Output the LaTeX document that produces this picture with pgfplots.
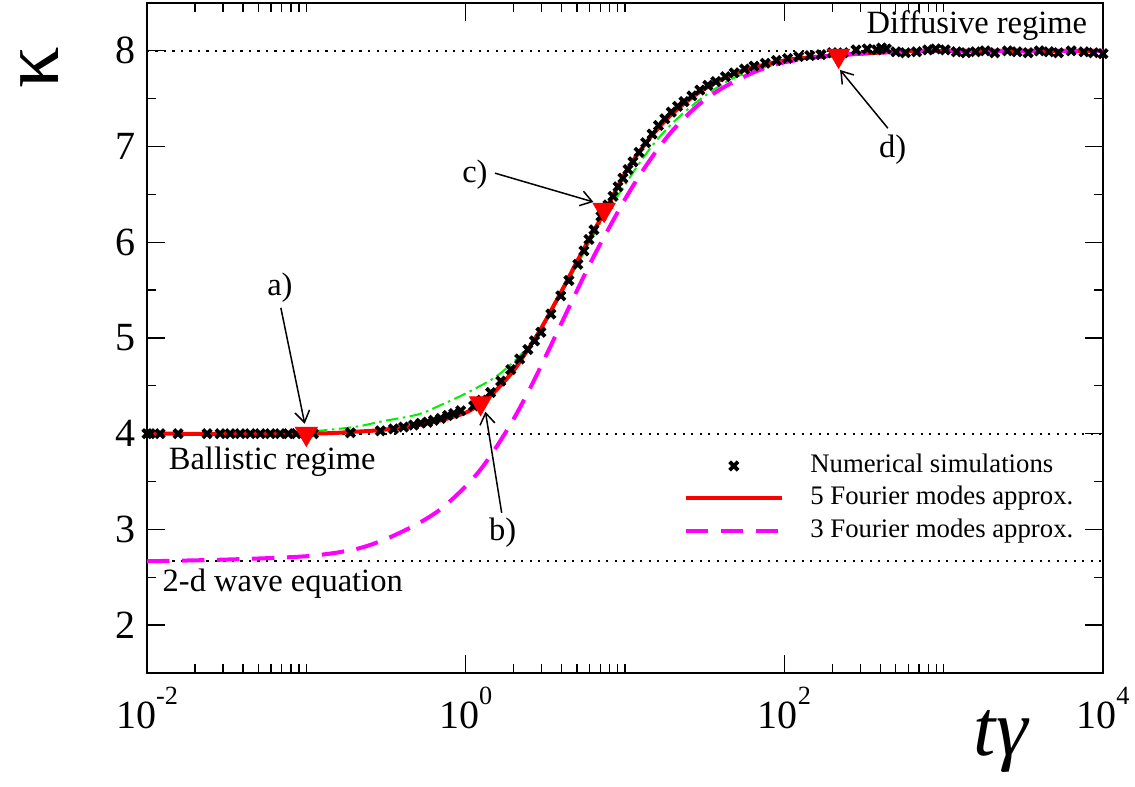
\documentclass[border=0pt]{standalone}
\usepackage{fontspec}
\setmainfont{Liberation Serif}
\usepackage{pgfplots}
\pgfplotsset{compat=1.18}
\usetikzlibrary{arrows.meta}

\definecolor{grmag}{RGB}{255,0,255}
\definecolor{grgreen}{RGB}{0,240,0}
\newcommand{\ex}[1]{\raisebox{0.6em}{\fontsize{10.5}{10.5}\selectfont #1}}

\pgfplotsset{
  longline legend/.style={legend image code/.code={\draw[##1] (0cm,0cm) -- (1.35cm,0cm);}},
  midmark legend/.style={legend image code/.code={\draw[mark repeat=1,##1] plot coordinates {(0.675cm,0cm)};}},
}

\begin{document}
\begin{tikzpicture}
\begin{axis}[
    name=ax,
    scale only axis,
    width=382.4pt, height=268pt,
    xmode=log,
    xmin=0.01, xmax=10000,
    ymin=1.5, ymax=8.5,
    xtick={0.01,1,100,10000},
    xticklabels={10\ex{-2},10\ex{0},10\ex{2},10\ex{4}},
    minor xtick={0.02,0.03,0.04,0.05,0.06,0.07,0.08,0.09,0.1,2,3,4,5,6,7,8,9,10,200,300,400,500,600,700,800,900,1000},
    ytick={2,3,4,5,6,7,8},
    yticklabels={2,3,4,5,6,7,8},
    minor ytick={2.5,3.5,4.5,5.5,6.5,7.5},
    tick align=inside,
    major tick length=7.2pt,
    minor tick length=3.6pt,
    every tick/.style={black, line width=0.5pt},
    axis line style={line width=0.8pt},
    ticklabel style={font=\fontsize{16}{16}\selectfont},
    xticklabel style={anchor=north, yshift=-2pt},
    yticklabel style={anchor=east, xshift=-1pt},
    ylabel={κ},
    ylabel style={at={(rel axis cs:-0.112,0.903)}, anchor=center, inner sep=0pt, font=\fontsize{33}{33}\selectfont},
    xlabel={\textit{tγ}},
    xlabel style={at={(rel axis cs:0.894,-0.103)}, anchor=center, inner sep=0pt, font=\fontsize{32}{32}\selectfont},
    legend style={draw=none, fill=none, at={(rel axis cs:0.561,0.334)}, anchor=north west,
        font=\fontsize{10.7}{12}\selectfont, inner sep=0pt,
        nodes={inner sep=1pt, text height=8pt, text depth=3pt},
        /tikz/every odd column/.append style={column sep=9.6pt}},
    legend cell align=left,
]

% reference levels
\addplot[black, line width=0.8pt, dash pattern=on 0.9pt off 2.5pt, forget plot] coordinates {(0.01,8) (10000,8)};
\addplot[black, line width=0.8pt, dash pattern=on 0.9pt off 2.5pt, forget plot] coordinates {(0.01,4) (10000,4)};
\addplot[black, line width=0.8pt, dash pattern=on 0.9pt off 2.5pt, forget plot] coordinates {(0.01,2.6667) (10000,2.6667)};

% numerical simulations
\addplot[only marks, mark=x, mark size=2.4pt, mark options={line width=1.5pt, black}, midmark legend]
coordinates {
(0.01,4.00) (0.01045,4.00) (0.01208,4.00) (0.01567,4.00) (0.02382,4.00) (0.02877,4.00)
(0.03327,4.00) (0.03846,4.00) (0.04446,4.00) (0.05140,4.00) (0.05943,4.00) (0.06855,4.00)
(0.07709,4.00) (0.08650,4.00) (0.09863,4.00) (0.1107,4.00) (0.1892,4.01) (0.2917,4.03)
(0.3524,4.05) (0.4074,4.07) (0.4710,4.09) (0.5212,4.11) (0.5768,4.12) (0.6295,4.14)
(0.6966,4.16) (0.7709,4.19) (0.8414,4.21) (0.9311,4.24) (1.122,4.29) (1.259,4.35)
(1.435,4.43) (1.660,4.55) (1.919,4.67) (2.183,4.78) (2.455,4.88) (2.704,4.97)
(2.965,5.06) (3.428,5.25) (3.954,5.44) (4.446,5.60) (5.058,5.77) (5.521,5.91)
(5.943,6.03) (6.383,6.13) (7.063,6.27) (7.816,6.39) (8.414,6.48) (9.036,6.58)
(9.705,6.67) (10.44,6.76) (11.22,6.84) (12.25,6.94) (13.49,7.04) (14.79,7.13)
(16.22,7.22) (17.78,7.29) (19.50,7.36) (21.38,7.42) (23.44,7.47) (26.30,7.53)
(29.51,7.59) (33.11,7.64) (37.15,7.68) (42.66,7.73) (48.42,7.77) (56.23,7.81)
(64.57,7.84) (75.86,7.87) (89.13,7.90) (104.7,7.92) (123.0,7.94) (144.5,7.95)
(169.8,7.96) (199.5,7.98) (234.4,7.98) (281.8,8.01) (331.1,8.02) (380.2,8.01)
(407.4,8.03) (436.5,8.02) (501.2,7.99) (575.4,7.98) (676.1,7.99) (794.3,8.01)
(891.3,8.02) (1023,8.01) (1202,7.99) (1380,7.98) (1585,7.99) (1820,8.00)
(2089,7.98) (2512,8.00) (2884,7.99) (3388,7.98) (3981,8.00) (4571,7.99)
(5248,7.98) (6310,8.00) (7586,7.99) (8710,7.98) (10000,7.97)
};
\addlegendentry{Numerical simulations}

% green dash-dot curve
\addplot[grgreen, line width=0.8pt, dash pattern=on 5pt off 1.8pt on 1pt off 1.8pt, smooth, forget plot]
coordinates {
(0.01,4.00) (0.05,4.00) (0.1,4.02) (0.2,4.07) (0.3,4.13) (0.5,4.20) (0.7,4.30)
(1,4.42) (1.5,4.58) (2,4.75) (2.5,4.92) (3,5.11) (4,5.47) (5,5.76) (6,6.00)
(7,6.20) (8,6.36) (10,6.60) (12,6.80) (15,7.02) (20,7.25) (30,7.50) (50,7.73)
(100,7.88) (200,7.95) (500,7.99) (1000,8.00) (10000,8.00)
};

% 5 Fourier modes
\addplot[red, line width=1.6pt, smooth, longline legend]
coordinates {
(0.01,4.00) (0.1,4.00) (0.2,4.02) (0.3,4.04) (0.5,4.09) (0.7,4.14) (1,4.22)
(1.2,4.30) (1.5,4.43) (2,4.66) (2.5,4.90) (3,5.11) (4,5.49) (5,5.80) (6,6.04)
(7,6.24) (8,6.42) (10,6.72) (12,6.92) (15,7.13) (20,7.35) (30,7.58) (50,7.77)
(100,7.90) (200,7.95) (500,7.99) (1000,8.00) (10000,8.00)
};
\addlegendentry{5 Fourier modes approx.}

% 3 Fourier modes
\addplot[grmag, line width=1.6pt, dash pattern=on 9pt off 5pt, smooth, longline legend]
coordinates {
(0.01,2.667) (0.0316,2.685) (0.1,2.72) (0.1995,2.79) (0.3162,2.90) (0.5012,3.06)
(0.7079,3.22) (1,3.45) (1.259,3.64) (1.585,3.88) (1.995,4.15) (2.512,4.46)
(3.162,4.80) (3.981,5.15) (5.012,5.50) (6.310,5.84) (7.943,6.15) (10,6.45)
(12.59,6.72) (15.85,6.96) (19.95,7.17) (28.18,7.42) (39.81,7.60) (63.1,7.77)
(100,7.88) (199.5,7.95) (501.2,7.99) (1000,8.00) (10000,8.00)
};
\addlegendentry{3 Fourier modes approx.}

% marked times a) - d)
\addplot[only marks, mark=triangle*, mark size=5pt, mark options={rotate=180, fill=red, draw=red}, forget plot]
coordinates {(0.1,4.00) (1.24,4.32) (7.4,6.34) (219,7.95)};

\begin{scope}[font=\fontsize{13}{13}\selectfont]
\node at (rel axis cs:0.139,0.575) {a)};
\node at (rel axis cs:0.372,0.209) {b)};
\node at (rel axis cs:0.343,0.743) {c)};
\node at (rel axis cs:0.780,0.781) {d)};
\node at (rel axis cs:0.131,0.316) {Ballistic regime};
\node at (rel axis cs:0.142,0.134) {2-d wave equation};
\node at (rel axis cs:0.868,0.967) {Diffusive regime};
\end{scope}
\begin{scope}[line width=0.6pt, -{Straight Barb[length=4.5pt,width=6pt]}]
\draw (rel axis cs:0.140,0.545) -- (rel axis cs:0.165,0.372);
\draw (rel axis cs:0.371,0.239) -- (rel axis cs:0.354,0.390);
\draw (rel axis cs:0.364,0.746) -- (rel axis cs:0.467,0.703);
\draw (rel axis cs:0.775,0.813) -- (rel axis cs:0.725,0.900);
\end{scope}
\end{axis}
\pgfresetboundingbox
\path ([shift={(-58.8pt,-45.6pt)}]ax.south west) rectangle ([shift={(12.8pt,1.2pt)}]ax.north east);
\end{tikzpicture}
\end{document}
